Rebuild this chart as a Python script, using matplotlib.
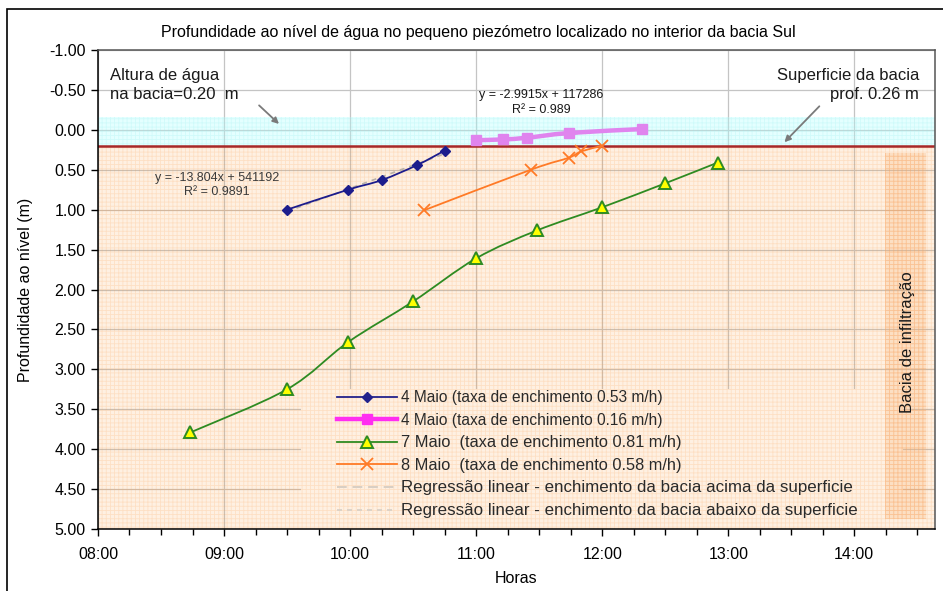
import numpy as np
import matplotlib
matplotlib.use("Agg")
import matplotlib.pyplot as plt
from matplotlib.patches import Rectangle, PathPatch
from matplotlib.path import Path
from matplotlib.lines import Line2D
from matplotlib.ticker import MultipleLocator, FuncFormatter

plt.rcParams['font.family'] = ['Liberation Sans', 'DejaVu Sans']
plt.rcParams['hatch.linewidth'] = 0.6

# ---- data: time of reading and depth to water level (m) ----
maio4a_time = ["09:30", "09:59", "10:15", "10:32", "10:45"]
maio4a_depth = [1.00, 0.75, 0.63, 0.44, 0.26]

maio4b_time = ["11:00", "11:13", "11:24", "11:44", "12:19"]
maio4b_depth = [0.13, 0.12, 0.10, 0.04, -0.01]

maio7_time = ["08:44", "09:30", "09:59", "10:30", "11:00", "11:29", "12:00", "12:30", "12:55"]
maio7_depth = [3.79, 3.25, 2.66, 2.15, 1.61, 1.26, 0.97, 0.67, 0.41]

maio8_time = ["10:35", "11:26", "11:44", "11:50", "12:00"]
maio8_depth = [1.01, 0.50, 0.35, 0.27, 0.20]

series_labels = [
    "4 Maio (taxa de enchimento 0.53 m/h)",
    "4 Maio (taxa de enchimento 0.16 m/h)",
    "7 Maio  (taxa de enchimento 0.81 m/h)",
    "8 Maio  (taxa de enchimento 0.58 m/h)",
    "Regressão linear - enchimento da bacia acima da superficie",
    "Regressão linear - enchimento da bacia abaixo da superficie",
]

water_height = 0.20      # water column in the basin (m)
surface_depth = 0.20     # basin floor line drawn on the chart
x_ticks = ["08:00", "09:00", "10:00", "11:00", "12:00", "13:00", "14:00"]
y_ticks = [-1.0, -0.5, 0.0, 0.5, 1.0, 1.5, 2.0, 2.5, 3.0, 3.5, 4.0, 4.5, 5.0]


def hours(ts):
    return np.array([int(t[:2]) + int(t[3:]) / 60.0 for t in ts])


def smooth_path(x, y):
    """Smoothed (cardinal spline) path through the points, as Bezier curves."""
    pts = np.column_stack([x, y])
    n = len(pts)
    verts = [pts[0]]
    codes = [Path.MOVETO]
    for i in range(n - 1):
        p0 = pts[i - 1] if i > 0 else pts[i]
        p1 = pts[i]
        p2 = pts[i + 1]
        p3 = pts[i + 2] if i + 2 < n else pts[i + 1]
        verts += [p1 + (p2 - p0) / 6.0, p2 - (p3 - p1) / 6.0, p2]
        codes += [Path.CURVE4] * 3
    return Path(verts, codes)


fig = plt.figure(figsize=(9.43, 5.91), dpi=100)
ax = fig.add_axes([0.1039, 0.1049, 0.8876, 0.8105])

x0, x1 = 8.0, 14.64
ax.set_xlim(x0, x1)
ax.set_ylim(5.0, -1.0)

# chart border
fig.patches.append(Rectangle((7 / 943, -0.1), 2.0, 1.0 - 9 / 591 + 0.1,
                             transform=fig.transFigure, fill=False,
                             edgecolor='black', lw=1.2))

# gridlines
ax.set_axisbelow(True)
ax.grid(True, which='major', color='#C4C4C4', lw=0.9)

# area covered by the legend (hides gridlines)
ax.add_patch(Rectangle((0.2425, 0.0), 0.7193, 0.292, transform=ax.transAxes,
                       facecolor='white', edgecolor='none', zorder=0.8))

# ground below the basin floor and water column in the basin
ax.add_patch(Rectangle((x0, surface_depth), x1 - x0, 5.0 - surface_depth,
                       facecolor=(0.99, 0.62, 0.25, 0.15),
                       edgecolor=(0.98, 0.62, 0.30, 0.20),
                       hatch='++++', lw=0, zorder=1))
ax.add_patch(Rectangle((x0, surface_depth - water_height - 0.155), x1 - x0, water_height + 0.155,
                       facecolor=(0.70, 1.0, 1.0, 0.35),
                       edgecolor=(0.55, 0.92, 0.92, 0.22),
                       hatch='++++', lw=0, zorder=1))

# infiltration basin column
ax.add_patch(Rectangle((14.246, 0.285), 0.325, 4.59,
                       facecolor=(0.98, 0.70, 0.45, 0.28),
                       edgecolor=(0.97, 0.65, 0.40, 0.35),
                       hatch='++++', lw=0, zorder=1.1))
ax.text(14.42, 2.66, "Bacia de infiltração", rotation=90, ha='center', va='center',
        fontsize=12, color='#1A1A1A', zorder=6)

# basin floor
ax.axhline(surface_depth, color='#A82828', lw=1.8, zorder=2)

# linear regressions
t_a, d_a = hours(maio4a_time), np.array(maio4a_depth)
t_b, d_b = hours(maio4b_time), np.array(maio4b_depth)
for t, d, ls in ((t_b, d_b, (0, (5, 3))), (t_a, d_a, (0, (3, 3)))):
    k, c = np.polyfit(t, d, 1)
    ax.plot([t[0], t[-1]], [k * t[0] + c, k * t[-1] + c], color='#B8B0A8',
            lw=1.2, ls=ls, zorder=2.5)

# measured series
navy = '#1C1C8C'
pink_line = '#E084EE'
green = '#2E8B22'
orange = '#FF7A26'

ax.add_patch(PathPatch(smooth_path(t_a, d_a), facecolor='none', edgecolor=navy, lw=1.3, zorder=3))
ax.plot(t_a, d_a, ls='none', marker='D', ms=5.5, color=navy, zorder=4)

ax.add_patch(PathPatch(smooth_path(t_b, d_b), facecolor='none', edgecolor=pink_line, lw=3.2, zorder=3))
ax.plot(t_b, d_b, ls='none', marker='s', ms=7, color=pink_line, zorder=4)

t7, d7 = hours(maio7_time), np.array(maio7_depth)
ax.add_patch(PathPatch(smooth_path(t7, d7), facecolor='none', edgecolor=green, lw=1.3, zorder=3))
ax.plot(t7, d7, ls='none', marker='^', ms=8, mfc='#FFFF00', mec=green, mew=1.4, zorder=4)

t8, d8 = hours(maio8_time), np.array(maio8_depth)
ax.add_patch(PathPatch(smooth_path(t8, d8), facecolor='none', edgecolor=orange, lw=1.3, zorder=3))
ax.plot(t8, d8, ls='none', marker='x', ms=9, mew=1.3, color=orange, zorder=4)

# regression equations
ax.text(8.945, 0.69, "y = -13.804x + 541192\nR² = 0.9891", ha='center', va='center',
        fontsize=9, color='#3A3A3A', linespacing=1.3, zorder=6)
ax.text(11.516, -0.34, "y = -2.9915x + 117286\nR² = 0.989", ha='center', va='center',
        fontsize=9, color='#1A1A1A', linespacing=1.3, zorder=6)

# water height / basin surface notes
ax.text(8.095, -0.56, "Altura de água\nna bacia=0.20  m", ha='left', va='center',
        fontsize=12, color='#1A1A1A', linespacing=1.35, zorder=6)
ax.annotate("", xy=(9.452, -0.05), xytext=(9.262, -0.33),
            arrowprops=dict(arrowstyle='-|>', color='#7A7A7A', lw=1.3, mutation_scale=9),
            zorder=6)
ax.text(14.516, -0.56, "Superficie da bacia\nprof. 0.26 m", ha='right', va='center',
        fontsize=12, color='#1A1A1A', linespacing=1.35, zorder=6)
ax.annotate("", xy=(13.43, 0.18), xytext=(13.738, -0.32),
            arrowprops=dict(arrowstyle='-|>', color='#7A7A7A', lw=1.3, mutation_scale=9),
            zorder=6)

# axes formatting
ax.set_xticks(hours(x_ticks))
ax.set_xticklabels(x_ticks)
ax.xaxis.set_minor_locator(MultipleLocator(0.25))
ax.set_yticks(y_ticks)
ax.yaxis.set_major_formatter(FuncFormatter(lambda v, p: f"{v:.2f}"))
ax.tick_params(which='major', direction='out', length=5, width=1, labelsize=11.5, colors='black')
ax.tick_params(axis='x', which='major', pad=8)
ax.tick_params(axis='y', which='major', pad=4)
ax.tick_params(which='minor', direction='out', length=4, width=1)
for s in ('left', 'bottom'):
    ax.spines[s].set_color('black')
    ax.spines[s].set_linewidth(1.1)
for s in ('top', 'right'):
    ax.spines[s].set_color('#555555')
    ax.spines[s].set_linewidth(1.1)

ax.set_xlabel("Horas", fontsize=11.5)
ax.xaxis.set_label_coords(0.5, -0.088)
ax.set_ylabel("Profundidade ao nível (m)", fontsize=11.5)
ax.yaxis.set_label_coords(-0.078, 0.5)

fig.text(478 / 943, 1 - 33 / 591, "Profundidade ao nível de água no pequeno piezómetro localizado no interior da bacia Sul",
         ha='center', va='center', fontsize=11.5)

# legend
handles = [
    Line2D([], [], color='#22228C', lw=1.3, marker='D', ms=5.5),
    Line2D([], [], color='#FF2EF0', lw=3.2, marker='s', ms=7),
    Line2D([], [], color=green, lw=1.3, marker='^', ms=8, mfc='#FFFF00', mec=green, mew=1.4),
    Line2D([], [], color=orange, lw=1.3, marker='x', ms=9, mew=1.3),
    Line2D([], [], color='#D8CFC4', lw=1.4, ls=(0, (5, 3))),
    Line2D([], [], color='#D8CFC4', lw=1.2, ls=(0, (3, 3))),
]
leg = ax.legend(handles, series_labels, loc='upper left', bbox_to_anchor=(337 / 943, 1 - 390 / 591),
                bbox_transform=fig.transFigure, frameon=False, fontsize=11.2, borderpad=0,
                borderaxespad=0, handlelength=3.85, handletextpad=0.25, labelspacing=0.49,
                labelcolor='#2A2A2A')
for txt, size in zip(leg.get_texts(), [11.2, 11.2, 11.8, 11.8, 12.2, 12.2]):
    txt.set_fontsize(size)

fig.savefig("out.png", dpi=100)
